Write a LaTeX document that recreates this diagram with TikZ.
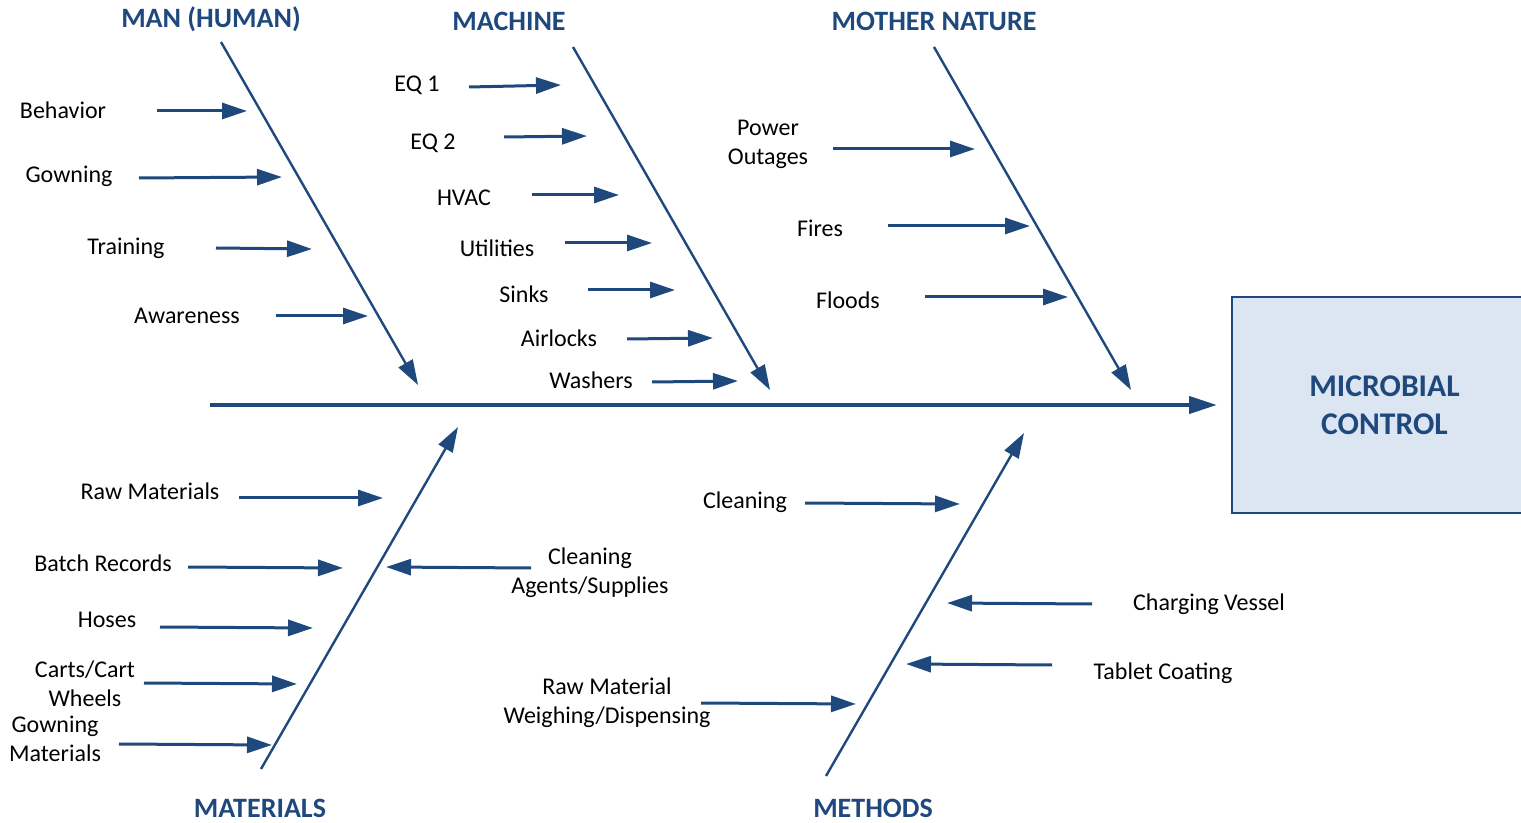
\documentclass[tikz,border=0pt]{standalone}
\usepackage{fontspec}
\setmainfont{Carlito}
\usetikzlibrary{arrows.meta}
\definecolor{fishblue}{HTML}{1F497D}
\definecolor{boxfill}{HTML}{DCE6F2}

\begin{document}
\begin{tikzpicture}[
    x=0.5pt, y=-0.5pt,
    >={Triangle[length=12.5pt,width=8pt]},
    every node/.style={font=\fontsize{12}{14.5}\selectfont, align=center, inner sep=0pt},
    cat/.style={font=\fontsize{14}{16}\selectfont\bfseries, text=fishblue},
    effect/.style={
        draw=fishblue, line width=1pt, fill=boxfill,
        minimum width=152.5pt, minimum height=108pt,
        font=\fontsize{15.8}{19}\selectfont\bfseries, text=fishblue
    },
    spine/.style={->, line width=2pt, fishblue, shorten >=7pt,
        >={Triangle[length=14pt,width=8.5pt]}},
    rib/.style={->, line width=1.2pt, fishblue},
    arr/.style={->, line width=1.5pt, fishblue}
]
    \useasboundingbox (0,0) rectangle (1521,823);

    % Effect box and spine
    \node[effect] (effect) at (1384.5,405) {MICROBIAL\\CONTROL};
    \coordinate (tail) at (210,405);
    \draw[spine] (tail) -- (effect.west);

    % Category headings
    \node[cat] (man)  at (211,19)  {MAN (HUMAN)};
    \node[cat] (mach) at (509,21)  {MACHINE};
    \node[cat] (nat)  at (934,21)  {MOTHER NATURE};
    \node[cat] (mat)  at (260,808) {MATERIALS};
    \node[cat] (meth) at (873,808) {METHODS};

    % Ribs
    \coordinate (man-top)  at (221,42);  \coordinate (man-end)  at (418,385);
    \coordinate (mach-top) at (573,47);  \coordinate (mach-end) at (770,390);
    \coordinate (nat-top)  at (934,47);  \coordinate (nat-end)  at (1131,390);
    \coordinate (mat-bot)  at (261,769); \coordinate (mat-end)  at (458,427);
    \coordinate (meth-bot) at (826,776); \coordinate (meth-end) at (1024,433);
    \draw[rib] (man-top)  -- (man-end);
    \draw[rib] (mach-top) -- (mach-end);
    \draw[rib] (nat-top)  -- (nat-end);
    \draw[rib] (mat-bot)  -- (mat-end);
    \draw[rib] (meth-bot) -- (meth-end);

    % Man (human)
    \node (behav) at (63,110)  {Behavior};
    \node (gown)  at (69,176)  {Gowning};
    \node (train) at (126,248) {Training};
    \node (aware) at (187,316) {Awareness};
    \coordinate (behav-s) at (157,111); \coordinate (behav-e) at (247,111);
    \coordinate (gown-s)  at (139,178); \coordinate (gown-e)  at (282,177);
    \coordinate (train-s) at (216,248); \coordinate (train-e) at (312,249);
    \coordinate (aware-s) at (276,316); \coordinate (aware-e) at (368,316);
    \draw[arr] (behav-s) -- (behav-e);
    \draw[arr] (gown-s)  -- (gown-e);
    \draw[arr] (train-s) -- (train-e);
    \draw[arr] (aware-s) -- (aware-e);

    % Machine
    \node (eq1)   at (417,85)  {EQ 1};
    \node (eq2)   at (433,143) {EQ 2};
    \node (hvac)  at (464,198) {HVAC};
    \node (util)  at (497,248) {Utilities};
    \node (sinks) at (524,294) {Sinks};
    \node (airl)  at (559,338) {Airlocks};
    \node (wash)  at (591,380) {Washers};
    \coordinate (eq1-s)   at (469,87);  \coordinate (eq1-e)   at (561,85);
    \coordinate (eq2-s)   at (504,137); \coordinate (eq2-e)   at (587,136);
    \coordinate (hvac-s)  at (532,195); \coordinate (hvac-e)  at (619,195);
    \coordinate (util-s)  at (565,243); \coordinate (util-e)  at (652,243);
    \coordinate (sinks-s) at (588,290); \coordinate (sinks-e) at (675,290);
    \coordinate (airl-s)  at (627,339); \coordinate (airl-e)  at (713,338);
    \coordinate (wash-s)  at (652,382); \coordinate (wash-e)  at (738,381);
    \draw[arr] (eq1-s)   -- (eq1-e);
    \draw[arr] (eq2-s)   -- (eq2-e);
    \draw[arr] (hvac-s)  -- (hvac-e);
    \draw[arr] (util-s)  -- (util-e);
    \draw[arr] (sinks-s) -- (sinks-e);
    \draw[arr] (airl-s)  -- (airl-e);
    \draw[arr] (wash-s)  -- (wash-e);

    % Mother nature
    \node (power)  at (768,144) {Power\\Outages};
    \node (fires)  at (820,228) {Fires};
    \node (floods) at (848,300) {Floods};
    \coordinate (power-s)  at (833,149); \coordinate (power-e)  at (975,149);
    \coordinate (fires-s)  at (888,226); \coordinate (fires-e)  at (1030,226);
    \coordinate (floods-s) at (925,297); \coordinate (floods-e) at (1068,297);
    \draw[arr] (power-s)  -- (power-e);
    \draw[arr] (fires-s)  -- (fires-e);
    \draw[arr] (floods-s) -- (floods-e);

    % Materials
    \node (rawm)  at (150,491) {Raw Materials};
    \node (batch) at (103,563) {Batch Records};
    \node (hoses) at (107,620) {Hoses};
    \node (carts) at (85,684)  {Carts/Cart\\Wheels};
    \node (gmat)  at (55,739)  {Gowning\\Materials};
    \node (agent) at (590,573) {Cleaning\\Agents/Supplies};
    \coordinate (rawm-s)  at (239,498); \coordinate (rawm-e)  at (383,498);
    \coordinate (batch-s) at (188,567); \coordinate (batch-e) at (343,568);
    \coordinate (hoses-s) at (160,627); \coordinate (hoses-e) at (313,628);
    \coordinate (carts-s) at (144,683); \coordinate (carts-e) at (297,684);
    \coordinate (gmat-s)  at (119,744); \coordinate (gmat-e)  at (272,745);
    \coordinate (agent-s) at (531,568); \coordinate (agent-e) at (386,567);
    \draw[arr] (rawm-s)  -- (rawm-e);
    \draw[arr] (batch-s) -- (batch-e);
    \draw[arr] (hoses-s) -- (hoses-e);
    \draw[arr] (carts-s) -- (carts-e);
    \draw[arr] (gmat-s)  -- (gmat-e);
    \draw[arr] (agent-s) -- (agent-e);

    % Methods
    \node (clean)  at (745,502)  {Cleaning};
    \node (charge) at (1209,604) {Charging Vessel};
    \node (coat)   at (1163,673) {Tablet Coating};
    \node (weigh)  at (607,703)  {Raw Material\\Weighing/Dispensing};
    \coordinate (clean-s)  at (805,503);  \coordinate (clean-e)  at (960,504);
    \coordinate (charge-s) at (1092,604); \coordinate (charge-e) at (947,603);
    \coordinate (coat-s)   at (1052,665); \coordinate (coat-e)   at (906,664);
    \coordinate (weigh-s)  at (701,703);  \coordinate (weigh-e)  at (856,704);
    \draw[arr] (clean-s)  -- (clean-e);
    \draw[arr] (charge-s) -- (charge-e);
    \draw[arr] (coat-s)   -- (coat-e);
    \draw[arr] (weigh-s)  -- (weigh-e);

\end{tikzpicture}
\end{document}
